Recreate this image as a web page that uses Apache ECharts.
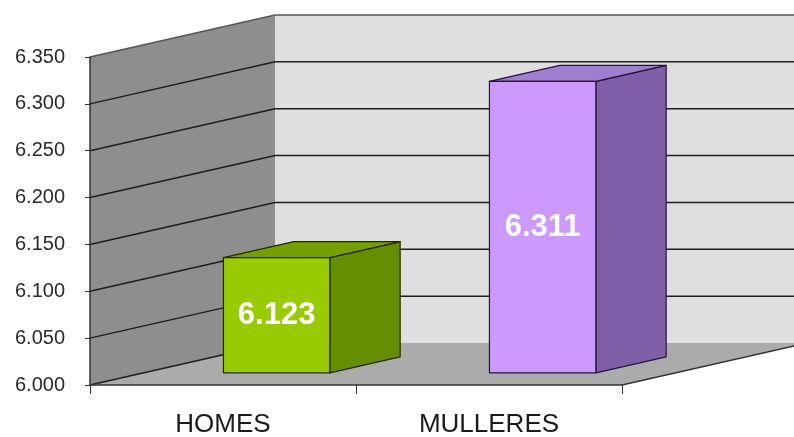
<!DOCTYPE html>
<html>
<head>
<meta charset="utf-8">
<script src="https://cdn.jsdelivr.net/npm/echarts@6/dist/echarts.min.js"></script>
<style>
  html, body { margin: 0; padding: 0; background: #fff; }
  #chart { width: 794px; height: 437px; }
</style>
</head>
<body>
<div id="chart"></div>
<script>
// data
const categories = ['HOMES', 'MULLERES']
const values = [6.123, 6.311]
const yTicks = [6.0, 6.05, 6.1, 6.15, 6.2, 6.25, 6.3, 6.35]

const yMin = 6.0
const yMax = 6.35
// depth offset of the 3d box (pixels)
const DX = 185
const DY = 42
const faces = [
  { front: '#99cc00', side: '#668f00', top: '#74a000', edge: '#1f2a00' },
  { front: '#cc99ff', side: '#7f60a8', top: '#9d7ecf', edge: '#24143a' }
]
const font = '"Liberation Sans", Arial, sans-serif'

let myChart = echarts.init(document.getElementById('chart'))

// walls, floor and gridlines
function renderWalls (params, api) {
  const cs = params.coordSys
  const x0 = cs.x
  const x1 = cs.x + cs.width
  const yb = api.coord([0, yMin])[1]
  const yt = api.coord([0, yMax])[1]
  const children = [
    {
      type: 'polygon',
      shape: { points: [[x0, yt], [x0 + DX, yt - DY], [x0 + DX, yb - DY], [x0, yb]] },
      style: { fill: '#8e8e8e' }
    },
    {
      type: 'polygon',
      shape: { points: [[x0 + DX, yt - DY], [x1 + DX, yt - DY], [x1 + DX, yb - DY], [x0 + DX, yb - DY]] },
      style: { fill: '#dfdfdf' }
    },
    {
      type: 'polygon',
      shape: { points: [[x0, yb], [x1, yb], [x1 + DX, yb - DY], [x0 + DX, yb - DY]] },
      style: { fill: '#ababab' }
    }
  ]
  yTicks.forEach(t => {
    const y = api.coord([0, t])[1]
    const pts = t === yMin ? [[x0, y], [x0 + DX, y - DY]] : [[x0, y], [x0 + DX, y - DY], [x1 + DX, y - DY]]
    children.push({
      type: 'polyline',
      shape: { points: pts },
      style: { stroke: t === yMax ? '#555' : '#1e1e1e', lineWidth: 1.5, fill: null }
    })
  })
  children.push({
    type: 'line',
    shape: { x1: x1, y1: yb, x2: x1 + DX, y2: yb - DY },
    style: { stroke: '#333', lineWidth: 1.5 }
  })
  return { type: 'group', children: children }
}

// 3d bars
function renderBar (params, api) {
  const i = params.dataIndex
  const c = faces[i]
  const base = api.coord([api.value(0), yMin])
  const top = api.coord([api.value(0), api.value(1)])
  const w = api.size([1, 0])[0] * 0.4
  const f1 = 0.29
  const f2 = 0.67
  const xl = base[0] - w / 2
  const xr = base[0] + w / 2
  const p = (x, y, f) => [x + DX * f, y - DY * f]
  const yT = top[1]
  const yB = base[1]
  const front = [p(xl, yT, f1), p(xr, yT, f1), p(xr, yB, f1), p(xl, yB, f1)]
  const side = [p(xr, yT, f1), p(xr, yT, f2), p(xr, yB, f2), p(xr, yB, f1)]
  const topFace = [p(xl, yT, f1), p(xl, yT, f2), p(xr, yT, f2), p(xr, yT, f1)]
  const edge = { stroke: c.edge, lineWidth: 1.2, lineJoin: 'round' }
  return {
    type: 'group',
    children: [
      { type: 'polygon', shape: { points: side }, style: Object.assign({ fill: c.side }, edge) },
      { type: 'polygon', shape: { points: topFace }, style: Object.assign({ fill: c.top }, edge) },
      { type: 'polygon', shape: { points: front }, style: Object.assign({ fill: c.front }, edge) },
      {
        type: 'text',
        x: (front[0][0] + front[1][0]) / 2,
        y: (front[0][1] + front[2][1]) / 2,
        style: {
          text: String(values[i].toFixed(3)),
          fill: '#fff',
          font: 'bold 31px ' + font,
          align: 'center',
          verticalAlign: 'middle'
        }
      }
    ]
  }
}

let option = {
  animation: false,
  backgroundColor: '#fff',
  grid: { left: 90, right: 172, top: 57, bottom: 52, outerBoundsMode: 'none', containLabel: false },
  xAxis: {
    type: 'category',
    data: categories,
    boundaryGap: true,
    axisLine: { show: true, lineStyle: { color: '#333', width: 1.5 } },
    axisTick: { show: true, length: 9, lineStyle: { color: '#333' } },
    axisLabel: { color: '#1a1a1a', fontSize: 26, fontFamily: font, margin: 27 },
    splitLine: { show: false },
    z: 10
  },
  yAxis: {
    type: 'value',
    min: yMin,
    max: yMax,
    interval: 0.05,
    axisLine: { show: true, lineStyle: { color: '#333', width: 1.5 } },
    axisTick: { show: true, length: 5, lineStyle: { color: '#333' } },
    axisLabel: {
      color: '#2a2a2a',
      fontSize: 20,
      fontFamily: font,
      margin: 25,
      formatter: v => v.toFixed(3)
    },
    splitLine: { show: false },
    z: 10
  },
  series: [
    {
      type: 'custom',
      renderItem: renderWalls,
      data: [[0, yMin]],
      clip: false,
      silent: true,
      z: 1
    },
    {
      type: 'custom',
      renderItem: renderBar,
      data: values.map((v, i) => [i, v]),
      clip: false,
      z: 5
    }
  ]
}
myChart.setOption(option)
</script>
</body>
</html>
